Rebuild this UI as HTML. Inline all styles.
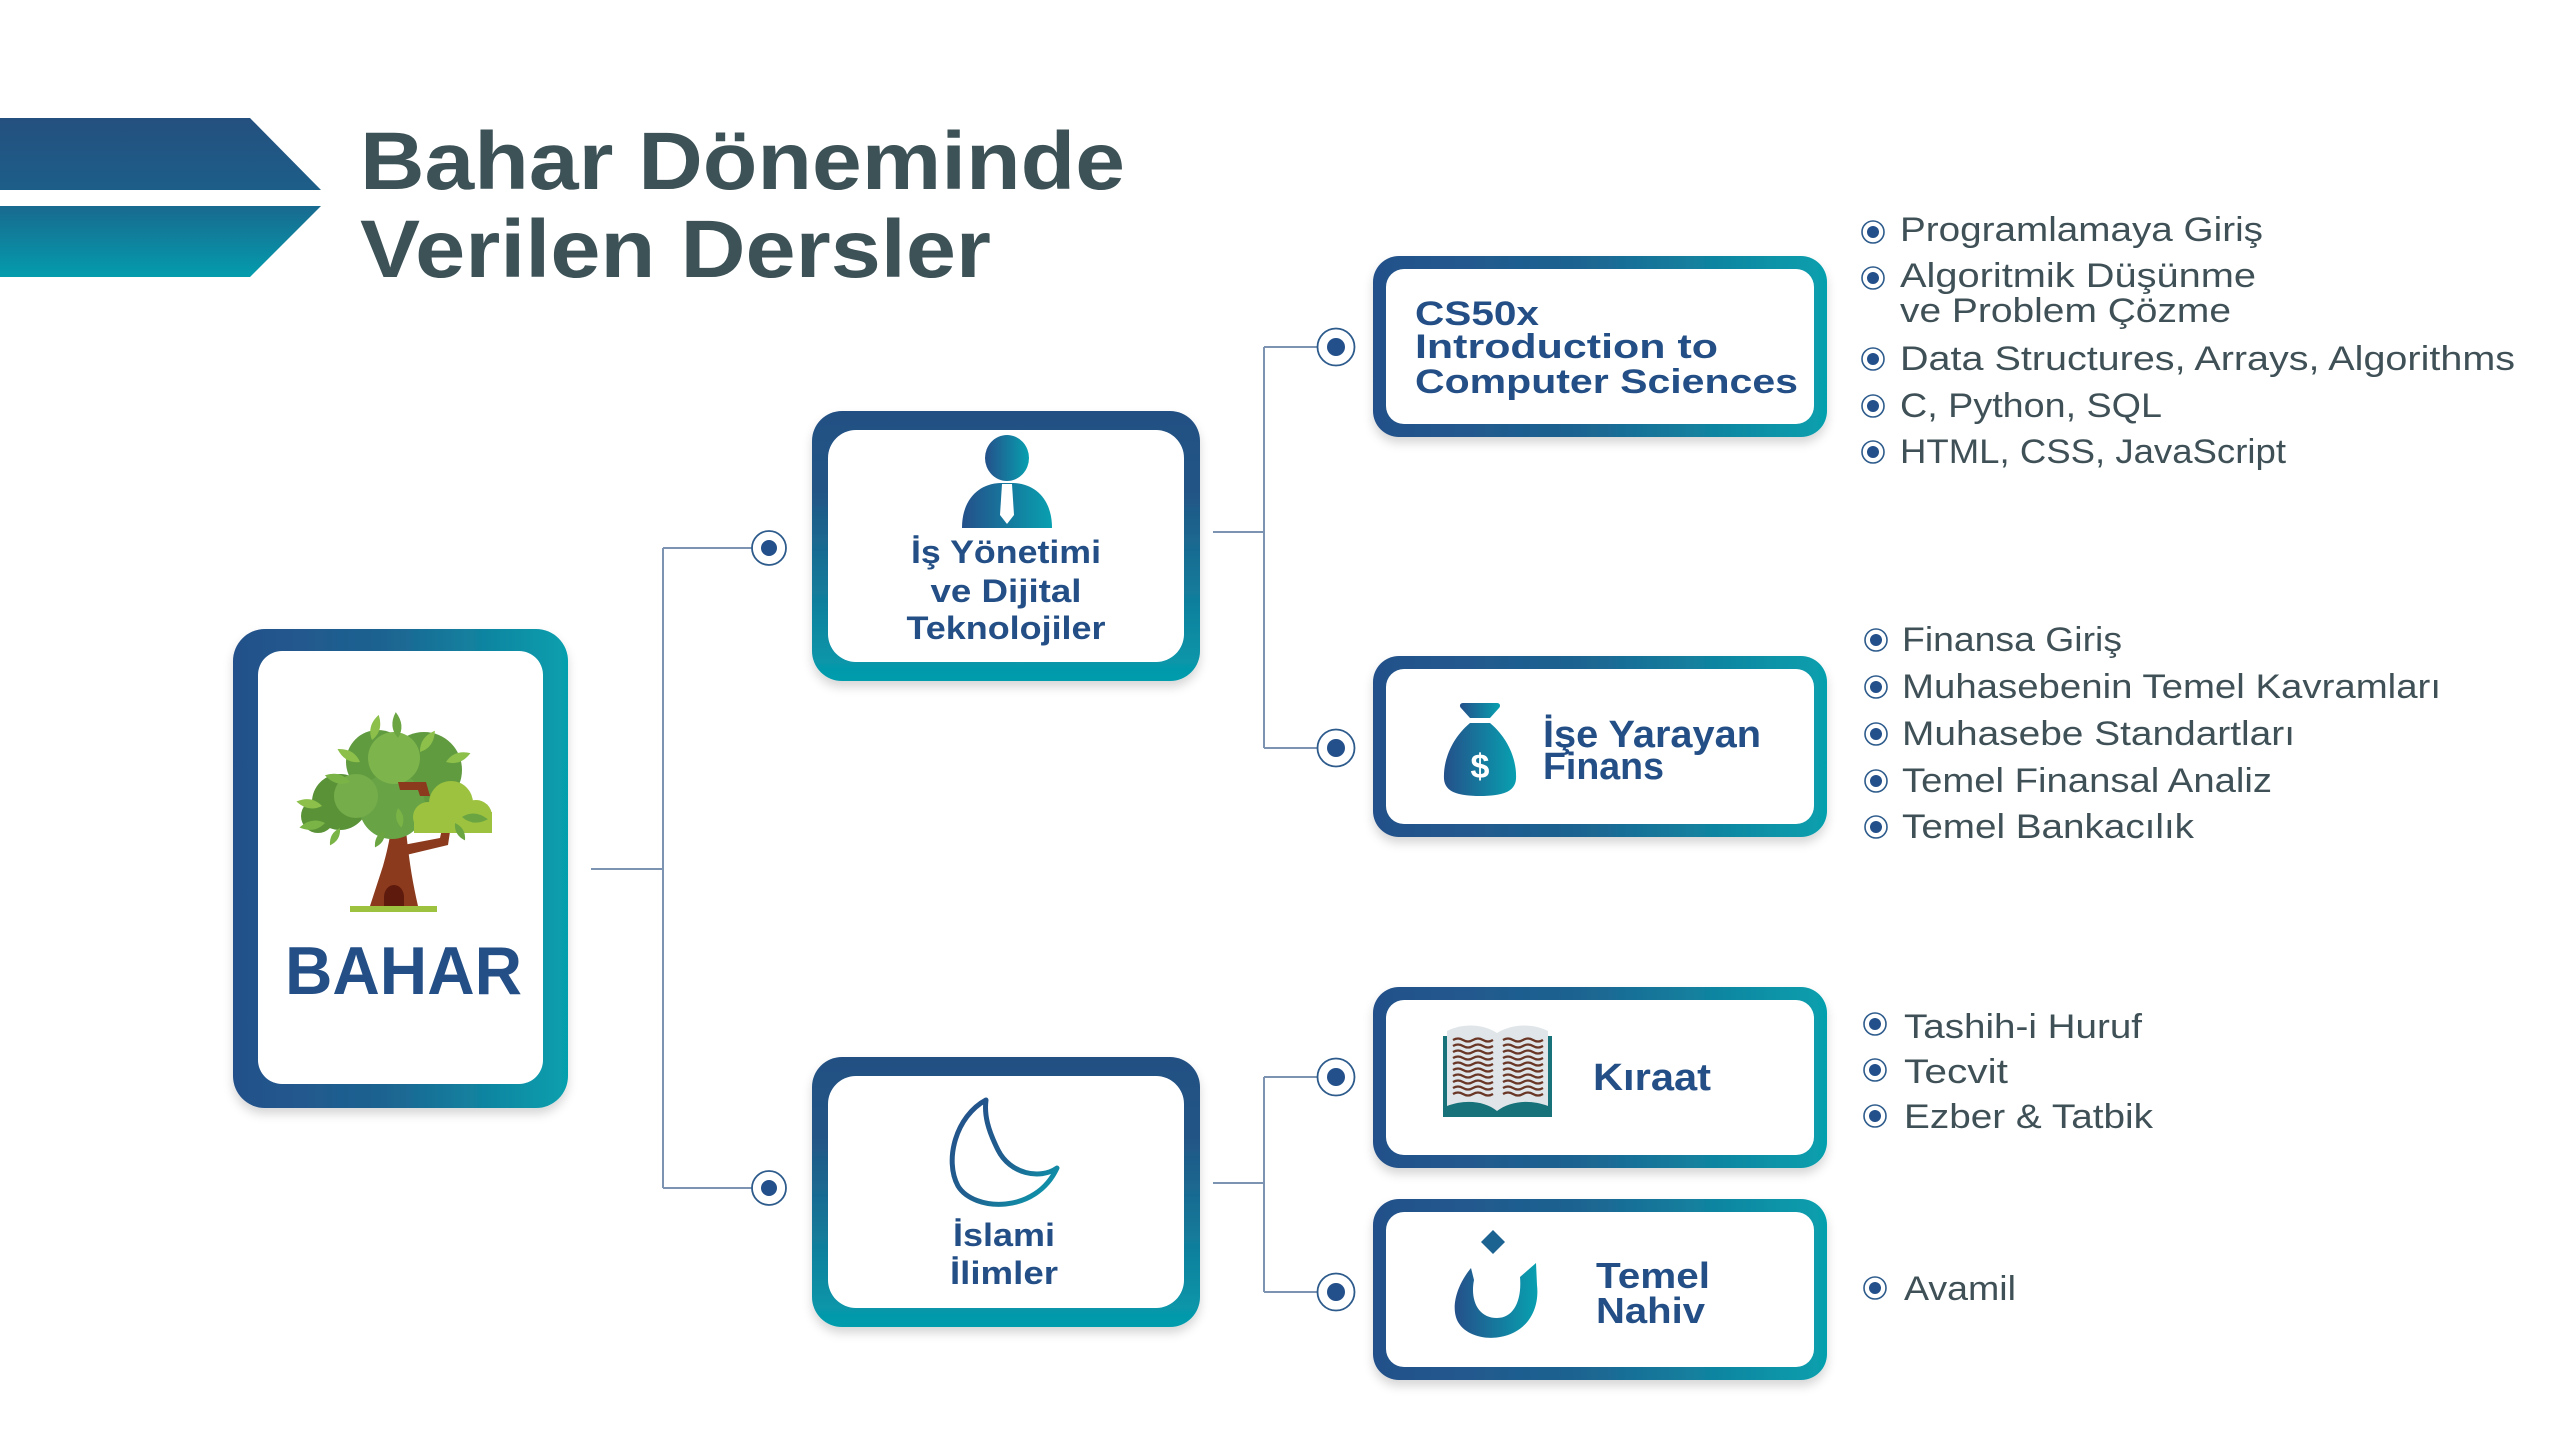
<!DOCTYPE html>
<html>
<head>
<meta charset="utf-8">
<style>
  html,body{margin:0;padding:0;background:#ffffff;}
  svg{display:block;}
  .t{font-family:"Liberation Sans","DejaVu Sans",sans-serif;}
</style>
</head>
<body>
<svg width="2560" height="1440" viewBox="0 0 2560 1440" xmlns="http://www.w3.org/2000/svg">
  <defs>
    <linearGradient id="gH" x1="0" y1="0" x2="1" y2="0">
      <stop offset="0" stop-color="#24508a"/>
      <stop offset="0.45" stop-color="#1d6391"/>
      <stop offset="1" stop-color="#06a0ae"/>
    </linearGradient>
    <linearGradient id="gV" x1="0" y1="0" x2="0" y2="1">
      <stop offset="0" stop-color="#245083"/>
      <stop offset="0.3" stop-color="#225586"/>
      <stop offset="1" stop-color="#049dad"/>
    </linearGradient>
    <linearGradient id="gBand" gradientUnits="userSpaceOnUse" x1="0" y1="118" x2="0" y2="277">
      <stop offset="0" stop-color="#24507f"/>
      <stop offset="0.45" stop-color="#1d5e89"/>
      <stop offset="1" stop-color="#049cad"/>
    </linearGradient>
    <linearGradient id="gIcon" x1="0" y1="0" x2="1" y2="0">
      <stop offset="0" stop-color="#24508a"/>
      <stop offset="1" stop-color="#08a0b0"/>
    </linearGradient>
    <linearGradient id="gMoon" x1="0" y1="0" x2="1" y2="1">
      <stop offset="0" stop-color="#24508a"/>
      <stop offset="0.55" stop-color="#1f5f8f"/>
      <stop offset="1" stop-color="#0aa3b2"/>
    </linearGradient>
    <filter id="sh" x="-10%" y="-10%" width="120%" height="130%">
      <feDropShadow dx="0" dy="6" stdDeviation="5" flood-color="#000" flood-opacity="0.16"/>
    </filter>
  </defs>

  <!-- Title bands -->
  <polygon points="0,118 250,118 321,190 0,190" fill="url(#gBand)"/>
  <polygon points="0,206 321,206 250,277 0,277" fill="url(#gBand)"/>

  <!-- Title -->
  <text class="t" x="360" y="189" font-size="82" font-weight="bold" fill="#3d5257" textLength="765" lengthAdjust="spacingAndGlyphs">Bahar Döneminde</text>
  <text class="t" x="360" y="277" font-size="82" font-weight="bold" fill="#3d5257" textLength="631" lengthAdjust="spacingAndGlyphs">Verilen Dersler</text>

  <!-- Connectors -->
  <g stroke="#7d93b2" stroke-width="2" fill="none">
    <line x1="591" y1="869" x2="663" y2="869"/>
    <line x1="663" y1="548" x2="663" y2="1188"/>
    <line x1="663" y1="548" x2="752" y2="548"/>
    <line x1="663" y1="1188" x2="752" y2="1188"/>

    <line x1="1213" y1="532" x2="1264" y2="532"/>
    <line x1="1264" y1="347" x2="1264" y2="748"/>
    <line x1="1264" y1="347" x2="1318" y2="347"/>
    <line x1="1264" y1="748" x2="1318" y2="748"/>

    <line x1="1213" y1="1183" x2="1264" y2="1183"/>
    <line x1="1264" y1="1077" x2="1264" y2="1292"/>
    <line x1="1264" y1="1077" x2="1318" y2="1077"/>
    <line x1="1264" y1="1292" x2="1318" y2="1292"/>
  </g>
  <g>
    <circle cx="769" cy="548" r="17" fill="#fff" stroke="#2d5b8c" stroke-width="1.8"/>
    <circle cx="769" cy="548" r="8" fill="#23508a"/>
    <circle cx="769" cy="1188" r="17" fill="#fff" stroke="#2d5b8c" stroke-width="1.8"/>
    <circle cx="769" cy="1188" r="8" fill="#23508a"/>
    <circle cx="1336" cy="347" r="18.5" fill="#fff" stroke="#2d5b8c" stroke-width="1.8"/>
    <circle cx="1336" cy="347" r="9" fill="#23508a"/>
    <circle cx="1336" cy="748" r="18.5" fill="#fff" stroke="#2d5b8c" stroke-width="1.8"/>
    <circle cx="1336" cy="748" r="9" fill="#23508a"/>
    <circle cx="1336" cy="1077" r="18.5" fill="#fff" stroke="#2d5b8c" stroke-width="1.8"/>
    <circle cx="1336" cy="1077" r="9" fill="#23508a"/>
    <circle cx="1336" cy="1292" r="18.5" fill="#fff" stroke="#2d5b8c" stroke-width="1.8"/>
    <circle cx="1336" cy="1292" r="9" fill="#23508a"/>
  </g>

  <!-- BAHAR box -->
  <rect x="233" y="629" width="335" height="479" rx="32" fill="url(#gH)" filter="url(#sh)"/>
  <rect x="258" y="651" width="285" height="433" rx="24" fill="#fff"/>

  <!-- Tree -->
  <g>
    <!-- trunk -->
    <path d="M370 906 L383 866 C387 852 389 842 391 830 L406 830 C408 850 411 876 418 906 Z" fill="#8b3a1d"/>
    <path d="M398 846 L440 838 L443 824 L451 825 L448 845 L402 856 Z" fill="#8b3a1d"/>
    <path d="M384 906 L384 897 A10 12 0 0 1 404 897 L404 906 Z" fill="#5e1a0c"/>
    <!-- crown back -->
    <circle cx="424" cy="770" r="38" fill="#619b40"/>
    <circle cx="378" cy="762" r="32" fill="#619b40"/>
    <circle cx="340" cy="802" r="28" fill="#5a9238"/>
    <circle cx="318" cy="816" r="17" fill="#5a9238"/>
    <circle cx="392" cy="806" r="33" fill="#68a346"/>
    <circle cx="356" cy="796" r="22" fill="#76ad4b"/>
    <circle cx="394" cy="758" r="26" fill="#7db44c"/>
    <path d="M398 782 L426 782 L430 796 L420 796 L418 790 L400 790 Z" fill="#8b3a1d"/>
    <!-- right light cloud -->
    <circle cx="451" cy="803" r="22" fill="#9cc23f"/>
    <circle cx="428" cy="817" r="15" fill="#9cc23f"/>
    <circle cx="476" cy="816" r="16" fill="#9cc23f"/>
    <rect x="414" y="812" width="78" height="21" fill="#9cc23f"/>
    <!-- leaves -->
    <g>
      <path d="M0 0 Q12 -9 26 0 Q12 9 0 0 Z" fill="#8cc04a" transform="translate(372,740) rotate(-75)"/>
      <path d="M0 0 Q12 -9 26 0 Q12 9 0 0 Z" fill="#6aa542" transform="translate(398,738) rotate(-95)"/>
      <path d="M0 0 Q12 -9 26 0 Q12 9 0 0 Z" fill="#8cc04a" transform="translate(420,752) rotate(-55)"/>
      <path d="M0 0 Q12 -9 26 0 Q12 9 0 0 Z" fill="#8cc04a" transform="translate(360,762) rotate(-150)"/>
      <path d="M0 0 Q12 -9 26 0 Q12 9 0 0 Z" fill="#7ab447" transform="translate(350,782) rotate(-165)"/>
      <path d="M0 0 Q12 -9 26 0 Q12 9 0 0 Z" fill="#8cc04a" transform="translate(322,806) rotate(-170)"/>
      <path d="M0 0 Q12 -9 26 0 Q12 9 0 0 Z" fill="#7ab447" transform="translate(325,823) rotate(170)"/>
      <path d="M0 0 Q12 -9 26 0 Q12 9 0 0 Z" fill="#8cc04a" transform="translate(446,762) rotate(-20)"/>
      <path d="M0 0 Q12 -9 26 0 Q12 9 0 0 Z" fill="#6aa542" transform="translate(462,817) rotate(5)"/>
      <path d="M0 0 Q10 -7 20 0 Q10 7 0 0 Z" fill="#6aa542" transform="translate(455,823) rotate(60)"/>
      <path d="M0 0 Q10 -7 20 0 Q10 7 0 0 Z" fill="#7ab447" transform="translate(398,808) rotate(80)"/>
      <path d="M0 0 Q10 -7 20 0 Q10 7 0 0 Z" fill="#6aa542" transform="translate(385,830) rotate(120)"/>
      <path d="M0 0 Q10 -7 20 0 Q10 7 0 0 Z" fill="#7ab447" transform="translate(340,828) rotate(120)"/>
    </g>
    <rect x="350" y="906" width="87" height="6" fill="#9cc23f"/>
  </g>
  <text class="t" x="285" y="994" font-size="68" font-weight="bold" fill="#234f86" textLength="237" lengthAdjust="spacingAndGlyphs">BAHAR</text>

  <!-- Middle box 1 -->
  <rect x="812" y="411" width="388" height="270" rx="30" fill="url(#gV)" filter="url(#sh)"/>
  <rect x="828" y="430" width="356" height="232" rx="28" fill="#fff"/>
  <ellipse cx="1007" cy="458" rx="22" ry="23" fill="url(#gIcon)"/>
  <path d="M962 528 C962 500 978 484 1000 483 L1014 483 C1036 484 1052 500 1052 528 Z" fill="url(#gIcon)"/>
  <path d="M1002 484 L1012 484 L1014 515 L1007 524 L1000 515 Z" fill="#fff"/>
  <g class="t" font-size="32" font-weight="bold" fill="#234f86" text-anchor="middle">
    <text x="1006" y="563" textLength="190" lengthAdjust="spacingAndGlyphs">İş Yönetimi</text>
    <text x="1006" y="602" textLength="151" lengthAdjust="spacingAndGlyphs">ve Dijital</text>
    <text x="1006" y="639" textLength="199" lengthAdjust="spacingAndGlyphs">Teknolojiler</text>
  </g>

  <!-- Middle box 2 -->
  <rect x="812" y="1057" width="388" height="270" rx="30" fill="url(#gV)" filter="url(#sh)"/>
  <rect x="828" y="1076" width="356" height="232" rx="28" fill="#fff"/>
  <path d="M986 1100 C956 1116 944 1160 958 1186 C974 1212 1036 1214 1057 1168 C1040 1180 1010 1174 998 1150 C988 1130 984 1115 986 1100 Z" fill="none" stroke="url(#gMoon)" stroke-width="5" stroke-linejoin="round"/>
  <g class="t" font-size="32" font-weight="bold" fill="#234f86" text-anchor="middle">
    <text x="1004" y="1246" textLength="102" lengthAdjust="spacingAndGlyphs">İslami</text>
    <text x="1004" y="1284" textLength="108" lengthAdjust="spacingAndGlyphs">İlimler</text>
  </g>

  <!-- Right box: CS50 -->
  <rect x="1373" y="256" width="454" height="181" rx="26" fill="url(#gH)" filter="url(#sh)"/>
  <rect x="1386" y="269" width="428" height="155" rx="18" fill="#fff"/>
  <g class="t" font-size="34" font-weight="bold" fill="#234f86">
    <text x="1415" y="325" textLength="124" lengthAdjust="spacingAndGlyphs">CS50x</text>
    <text x="1415" y="358" textLength="303" lengthAdjust="spacingAndGlyphs">Introduction to</text>
    <text x="1415" y="393" textLength="383" lengthAdjust="spacingAndGlyphs">Computer Sciences</text>
  </g>

  <!-- Right box: Finans -->
  <rect x="1373" y="656" width="454" height="181" rx="26" fill="url(#gH)" filter="url(#sh)"/>
  <rect x="1386" y="669" width="428" height="155" rx="18" fill="#fff"/>
  <path d="M1463 703 L1497 703 C1500 703 1501 706 1499 708 L1490 718 L1470 718 L1461 708 C1459 706 1460 703 1463 703 Z" fill="url(#gIcon)"/>
  <path d="M1470 723 L1490 723 C1508 738 1517 760 1516 779 C1515 792 1502 796 1480 796 C1458 796 1445 792 1444 779 C1443 760 1452 738 1470 723 Z" fill="url(#gIcon)"/>
  <text class="t" x="1480" y="778" font-size="34" font-weight="bold" fill="#fff" text-anchor="middle">$</text>
  <g class="t" font-size="38" font-weight="bold" fill="#234f86">
    <text x="1543" y="747" textLength="218" lengthAdjust="spacingAndGlyphs">İşe Yarayan</text>
    <text x="1543" y="779" textLength="121" lengthAdjust="spacingAndGlyphs">Finans</text>
  </g>

  <!-- Right box: Kıraat -->
  <rect x="1373" y="987" width="454" height="181" rx="26" fill="url(#gH)" filter="url(#sh)"/>
  <rect x="1386" y="1000" width="428" height="155" rx="18" fill="#fff"/>
  <rect x="1443" y="1036" width="109" height="81" fill="#17727a"/>
  <path d="M1447 1031 C1465 1022 1485 1025 1497 1033 C1510 1025 1530 1022 1548 1031 L1548 1106 C1530 1099 1510 1101 1497 1111 C1485 1101 1465 1099 1447 1106 Z" fill="#dfe5e8"/>
  <g stroke="#6a3626" stroke-width="2.2" fill="none">
    <path d="M1453 1040 q5 -3 10 0 t10 0 t10 0 t10 0"/>
    <path d="M1453 1046 q5 -3 10 0 t10 0 t10 0 t10 0"/>
    <path d="M1453 1052 q5 -3 10 0 t10 0 t10 0 t10 0"/>
    <path d="M1453 1058 q5 -3 10 0 t10 0 t10 0 t10 0"/>
    <path d="M1453 1064 q5 -3 10 0 t10 0 t10 0 t10 0"/>
    <path d="M1453 1070 q5 -3 10 0 t10 0 t10 0 t10 0"/>
    <path d="M1453 1076 q5 -3 10 0 t10 0 t10 0 t10 0"/>
    <path d="M1453 1082 q5 -3 10 0 t10 0 t10 0 t10 0"/>
    <path d="M1453 1088 q5 -3 10 0 t10 0 t10 0 t10 0"/>
    <path d="M1453 1094 q5 -3 10 0 t10 0 t10 0 t10 0"/>
    <path d="M1503 1040 q5 -3 10 0 t10 0 t10 0 t10 0"/>
    <path d="M1503 1046 q5 -3 10 0 t10 0 t10 0 t10 0"/>
    <path d="M1503 1052 q5 -3 10 0 t10 0 t10 0 t10 0"/>
    <path d="M1503 1058 q5 -3 10 0 t10 0 t10 0 t10 0"/>
    <path d="M1503 1064 q5 -3 10 0 t10 0 t10 0 t10 0"/>
    <path d="M1503 1070 q5 -3 10 0 t10 0 t10 0 t10 0"/>
    <path d="M1503 1076 q5 -3 10 0 t10 0 t10 0 t10 0"/>
    <path d="M1503 1082 q5 -3 10 0 t10 0 t10 0 t10 0"/>
    <path d="M1503 1088 q5 -3 10 0 t10 0 t10 0 t10 0"/>
    <path d="M1503 1094 q5 -3 10 0 t10 0 t10 0 t10 0"/>
  </g>
  <text class="t" x="1593" y="1090" font-size="38" font-weight="bold" fill="#234f86" textLength="118" lengthAdjust="spacingAndGlyphs">Kıraat</text>

  <!-- Right box: Temel Nahiv -->
  <rect x="1373" y="1199" width="454" height="181" rx="26" fill="url(#gH)" filter="url(#sh)"/>
  <rect x="1386" y="1212" width="428" height="155" rx="18" fill="#fff"/>
  <path d="M1493 1230 L1505 1242 L1493 1254 L1481 1242 Z" fill="#1d6391"/>
  <path d="M1471 1268 C1457 1285 1451 1306 1457 1320 C1464 1335 1484 1340 1500 1337 C1525 1333 1540 1312 1537 1285 L1536 1263 L1520 1277 C1522 1300 1514 1318 1497 1318 C1478 1318 1470 1300 1474 1280 Z" fill="url(#gIcon)"/>
  <g class="t" font-size="36" font-weight="bold" fill="#234f86">
    <text x="1596" y="1288" textLength="114" lengthAdjust="spacingAndGlyphs">Temel</text>
    <text x="1596" y="1323" textLength="109" lengthAdjust="spacingAndGlyphs">Nahiv</text>
  </g>

  <!-- Bullets -->
  <g fill="#fff" stroke="#2d5b8c" stroke-width="1.6">
    <circle cx="1873" cy="232" r="11"/>
    <circle cx="1873" cy="278" r="11"/>
    <circle cx="1873" cy="359" r="11"/>
    <circle cx="1873" cy="406" r="11"/>
    <circle cx="1873" cy="452" r="11"/>
    <circle cx="1876" cy="640" r="11"/>
    <circle cx="1876" cy="687" r="11"/>
    <circle cx="1876" cy="734" r="11"/>
    <circle cx="1876" cy="781" r="11"/>
    <circle cx="1876" cy="827" r="11"/>
    <circle cx="1875" cy="1024" r="11"/>
    <circle cx="1875" cy="1070" r="11"/>
    <circle cx="1875" cy="1116" r="11"/>
    <circle cx="1875" cy="1288" r="11"/>
  </g>
  <g fill="#23508a">
    <circle cx="1873" cy="232" r="6"/>
    <circle cx="1873" cy="278" r="6"/>
    <circle cx="1873" cy="359" r="6"/>
    <circle cx="1873" cy="406" r="6"/>
    <circle cx="1873" cy="452" r="6"/>
    <circle cx="1876" cy="640" r="6"/>
    <circle cx="1876" cy="687" r="6"/>
    <circle cx="1876" cy="734" r="6"/>
    <circle cx="1876" cy="781" r="6"/>
    <circle cx="1876" cy="827" r="6"/>
    <circle cx="1875" cy="1024" r="6"/>
    <circle cx="1875" cy="1070" r="6"/>
    <circle cx="1875" cy="1116" r="6"/>
    <circle cx="1875" cy="1288" r="6"/>
  </g>
  <g class="t" font-size="34" fill="#3f5157">
    <text x="1900" y="241" textLength="363" lengthAdjust="spacingAndGlyphs">Programlamaya Giriş</text>
    <text x="1900" y="287" textLength="356" lengthAdjust="spacingAndGlyphs">Algoritmik Düşünme</text>
    <text x="1900" y="322" textLength="331" lengthAdjust="spacingAndGlyphs">ve Problem Çözme</text>
    <text x="1900" y="370" textLength="615" lengthAdjust="spacingAndGlyphs">Data Structures, Arrays, Algorithms</text>
    <text x="1900" y="417" textLength="262" lengthAdjust="spacingAndGlyphs">C, Python, SQL</text>
    <text x="1900" y="463" textLength="386" lengthAdjust="spacingAndGlyphs">HTML, CSS, JavaScript</text>

    <text x="1902" y="651" textLength="220" lengthAdjust="spacingAndGlyphs">Finansa Giriş</text>
    <text x="1902" y="698" textLength="539" lengthAdjust="spacingAndGlyphs">Muhasebenin Temel Kavramları</text>
    <text x="1902" y="745" textLength="393" lengthAdjust="spacingAndGlyphs">Muhasebe Standartları</text>
    <text x="1902" y="792" textLength="370" lengthAdjust="spacingAndGlyphs">Temel Finansal Analiz</text>
    <text x="1902" y="838" textLength="292" lengthAdjust="spacingAndGlyphs">Temel Bankacılık</text>

    <text x="1904" y="1038" textLength="238" lengthAdjust="spacingAndGlyphs">Tashih-i Huruf</text>
    <text x="1904" y="1083" textLength="104" lengthAdjust="spacingAndGlyphs">Tecvit</text>
    <text x="1904" y="1128" textLength="249" lengthAdjust="spacingAndGlyphs">Ezber &amp; Tatbik</text>
    <text x="1904" y="1300" textLength="112" lengthAdjust="spacingAndGlyphs">Avamil</text>
  </g>
</svg>
</body>
</html>
